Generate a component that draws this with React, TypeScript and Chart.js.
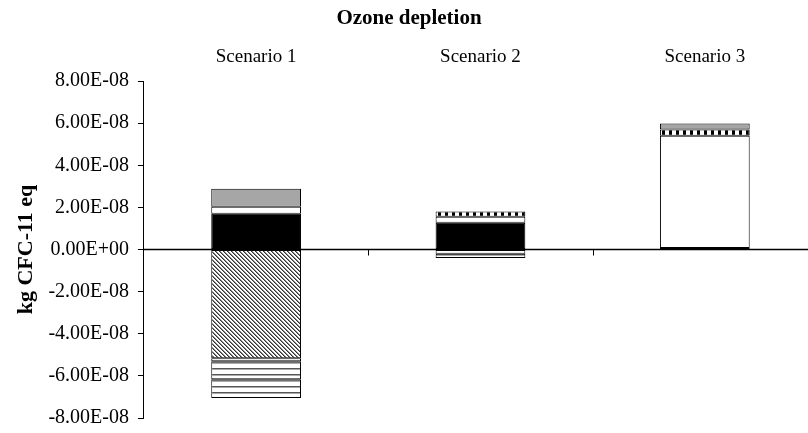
import React, { useEffect, useRef } from "react";
import { Chart, registerables } from "chart.js";

Chart.register(...registerables);

const categories = ["Scenario 1", "Scenario 2", "Scenario 3"];
const yTickMin = -8e-8;
const yTickMax = 8e-8;
const yTickStep = 2e-8;

// positive stack (bottom -> top)
const blackSeries = [1.7e-8, 1.27e-8, 0.07e-8];
const whiteSeries = [0.33e-8, 0.28e-8, 5.33e-8];
const dashedSeries = [null, 0.25e-8, 0.3e-8];
const graySeries = [0.85e-8, null, 0.28e-8];
// negative stack (top -> bottom)
const diagSeries = [-5.16e-8, null, null];
const stripesASeries = [-0.14e-8, -0.2e-8, null];
const stripesBSeries = [-0.86e-8, -0.2e-8, null];
const stripesCSeries = [-0.89e-8, null, null];

function makePattern(w: number, h: number, draw: (g: CanvasRenderingContext2D) => void) {
  const c = document.createElement("canvas");
  c.width = w;
  c.height = h;
  const g = c.getContext("2d")!;
  g.fillStyle = "#ffffff";
  g.fillRect(0, 0, w, h);
  draw(g);
  return g.createPattern(c, "repeat")!;
}

function sci(v: number) {
  if (Math.abs(v) < 1e-20) return "0.00E+00";
  const [m, e] = v.toExponential(2).split("e");
  const n = parseInt(e, 10);
  return m + "E" + (n < 0 ? "-" : "+") + String(Math.abs(n)).padStart(2, "0");
}

const serif = "'Liberation Serif', 'Times New Roman', serif";

export default function App() {
  const ref = useRef<HTMLCanvasElement>(null);
  useEffect(() => {
    const diag = makePattern(4, 4, (g) => {
      for (let y = 0; y < 4; y++)
        for (let x = 0; x < 4; x++) {
          const d = (((x - y) % 4) + 4) % 4;
          if (d === 0) { g.fillStyle = "#333333"; g.fillRect(x, y, 1, 1); }
          else if (d === 1) { g.fillStyle = "#888888"; g.fillRect(x, y, 1, 1); }
        }
    });
    const stripes = makePattern(4, 6, (g) => {
      g.fillStyle = "#555555";
      g.fillRect(0, 2, 4, 1);
      g.fillStyle = "#aaaaaa";
      g.fillRect(0, 3, 4, 1);
    });
    const dashed = makePattern(7, 4, (g) => {
      g.fillStyle = "#000000";
      g.fillRect(4, 0, 3, 4);
    });

    const mk = (label: string, data: (number | null)[], bg: any) => ({
      label,
      data,
      backgroundColor: bg,
      borderColor: "#000000",
      borderWidth: 1,
      borderSkipped: false as const,
      barPercentage: 0.4,
      categoryPercentage: 1,
    });

    const zeroAxis = {
      id: "zeroAxis",
      beforeDatasetsDraw(chart: any) {
        const { ctx, chartArea, scales } = chart;
        const y0 = scales.y.getPixelForValue(0);
        ctx.save();
        ctx.strokeStyle = "#000000";
        ctx.lineWidth = 1.5;
        ctx.beginPath();
        ctx.moveTo(chartArea.left, y0);
        ctx.lineTo(chartArea.right, y0);
        ctx.stroke();
        ctx.lineWidth = 1;
        for (let i = 1; i < categories.length; i++) {
          const bx = Math.round((scales.x.getPixelForValue(i - 1) + scales.x.getPixelForValue(i)) / 2) + 0.5;
          ctx.beginPath();
          ctx.moveTo(bx, y0);
          ctx.lineTo(bx, y0 + 6);
          ctx.stroke();
        }
        ctx.restore();
      },
    };

    const chart = new Chart(ref.current!, {
      type: "bar",
      data: {
        labels: categories,
        datasets: [
          mk("A", blackSeries, "#000000"),
          mk("B", whiteSeries, "#ffffff"),
          mk("C", dashedSeries, dashed),
          mk("D", graySeries, "#a6a6a6"),
          mk("E", diagSeries, diag),
          mk("F", stripesASeries, stripes),
          mk("G", stripesBSeries, stripes),
          mk("H", stripesCSeries, stripes),
        ],
      },
      options: {
        responsive: false,
        animation: false,
        layout: { padding: { left: 1, right: 0, top: 0, bottom: 0 } },
        plugins: {
          legend: { display: false },
          tooltip: { enabled: false },
          title: {
            display: true,
            text: "Ozone depletion",
            color: "#000000",
            font: { family: serif, size: 21, weight: "bold" },
            padding: { top: 6, bottom: 1 },
          },
        },
        scales: {
          x: {
            position: "top",
            stacked: true,
            grid: { display: false, drawTicks: false },
            border: { display: false },
            ticks: { color: "#000000", font: { family: serif, size: 19 }, padding: 13 },
          },
          y: {
            stacked: true,
            min: yTickMin,
            max: yTickMax,
            grid: { drawOnChartArea: false, drawTicks: true, tickLength: 6, color: "#000000" },
            border: { display: true, color: "#000000", width: 1 },
            ticks: {
              stepSize: yTickStep,
              color: "#000000",
              font: { family: serif, size: 20, lineHeight: 0.6 },
              padding: 9,
              callback: (v: any) => sci(Number(v)),
            },
            title: {
              display: true,
              text: "kg CFC-11 eq",
              color: "#000000",
              font: { family: serif, size: 22, weight: "bold" },
              padding: { top: 12, bottom: 0 },
            },
          },
        },
      },
      plugins: [zeroAxis],
    });
    return () => chart.destroy();
  }, []);

  return (
    <div style={{ position: "fixed", left: 0, top: 0, width: 808, height: 433, overflow: "hidden", background: "#fff" }}>
      <canvas ref={ref} width={817} height={433} style={{ display: "block" }} />
    </div>
  );
}
